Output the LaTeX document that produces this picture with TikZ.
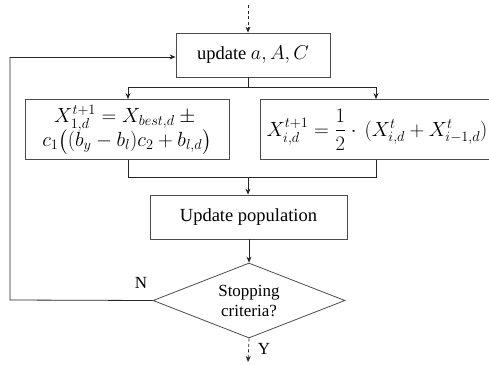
\RequirePackage{fix-cm}
\documentclass[tikz,border=0pt]{standalone}
\usepackage{amsmath}
\usepackage{fontspec}
\setmainfont{Liberation Serif}
\usetikzlibrary{arrows.meta,shapes.geometric}
\begin{document}
\begin{tikzpicture}[x=1pt,y=-1pt,
  box/.style={draw=black!70,line width=0.8pt,rectangle,inner sep=0pt,align=center,font=\fontsize{18.5}{23}\selectfont},
  fbox/.style={box,font=\fontsize{20.5}{25}\selectfont},
  conn/.style={draw=black!85,line width=0.8pt},
  arr/.style={conn,-{Stealth[length=6pt,width=5pt]}},
  darr/.style={arr,dash pattern=on 3pt off 2.5pt},
  lbl/.style={font=\fontsize{17}{20}\selectfont,inner sep=0pt}]
\useasboundingbox (0,0) rectangle (489,364);
\begin{scope}
\clip (0,0) rectangle (489,364);
\node[box,minimum width=154pt,minimum height=44pt] (upd) at (253,55) {update {\fontsize{20}{23}\selectfont$a,A,C$}};
\node[fbox,minimum width=204pt,minimum height=60pt] (lb) at (127,129.5)
  {$X_{1,d}^{t+1}=X_{best,d}\pm{}$\\[-3pt]$c_1\bigl((b_y-b_l)c_2+b_{l,d}\bigr)$};
\node[fbox,minimum width=234pt,minimum height=60pt] (rb) at (377,129.5)
  {$X_{i,d}^{t+1}=\dfrac{1}{2}\cdot\,(X_{i,d}^{t}+X_{i-1,d}^{t})$};
\node[box,minimum width=197pt,minimum height=44pt] (pop) at (248.5,217) {Update population};
\node[box,diamond,aspect=2.56,minimum width=192pt,minimum height=75pt,inner sep=0pt,align=center,font=\fontsize{17}{20}\selectfont] (dia) at (249,300.5) {Stopping\\criteria?};
\end{scope}
\coordinate (top) at (248,5);
\coordinate (bot) at (248,362);
\coordinate (uj) at (248,87);
\coordinate (ujl) at (128,87);
\coordinate (ujr) at (376,87);
\coordinate (lj) at (128,177);
\coordinate (rj) at (376,177);
\coordinate (mj) at (248,177);
\coordinate (lp) at (10,300);
\coordinate (lq) at (10,57);
\draw[darr] (top) -- (top |- upd.north);
\draw[conn] (uj |- upd.south) -- (uj);
\draw[conn] (ujl) -- (ujr);
\draw[arr] (ujl) -- (ujl |- lb.north);
\draw[arr] (ujr) -- (ujr |- rb.north);
\draw[conn] (lj |- lb.south) -- (lj) -- (rj) -- (rj |- rb.south);
\draw[arr] (mj) -- (mj |- pop.north);
\draw[arr] (pop.south -| dia.north) -- (dia.north);
\draw[conn] (dia.west) -- (lp) -- (lq);
\draw[arr] (lq) -- (lq -| upd.west);
\draw[darr] (dia.south) -- (bot);
\node[lbl] (n) at (141,283) {N};
\node[lbl] (y) at (264,349) {Y};
\end{tikzpicture}
\end{document}
